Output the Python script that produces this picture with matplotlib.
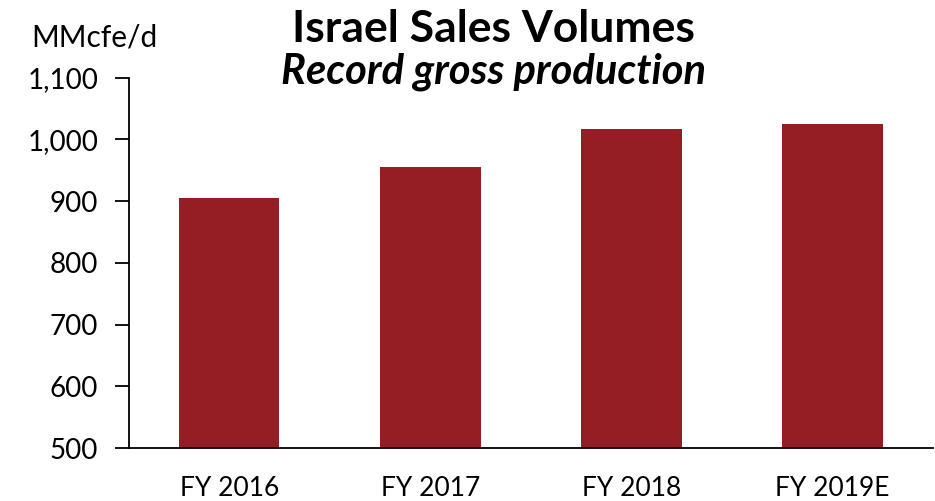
import matplotlib.pyplot as plt
from matplotlib.ticker import FuncFormatter

years = ['FY 2016', 'FY 2017', 'FY 2018', 'FY 2019E']
volumes = [905, 955, 1017, 1024]
y_ticks = [500, 600, 700, 800, 900, 1000, 1100]

plt.rcParams['font.family'] = ['Lato', 'DejaVu Sans']

fig = plt.figure(figsize=(9.35, 5.01), dpi=100)
ax = fig.add_axes([0.1376, 0.1052, 0.8604, 0.7401])

ax.bar(range(len(years)), volumes, width=0.5, color='#941e23', zorder=2)

ax.set_xlim(-0.5, len(years) - 0.5)
ax.set_ylim(500, 1100)
ax.set_yticks(y_ticks)
ax.yaxis.set_major_formatter(FuncFormatter(lambda v, p: '{:,.0f}'.format(v)))
ax.set_xticks(range(len(years)))
ax.set_xticklabels(years)

ax.spines['top'].set_visible(False)
ax.spines['right'].set_visible(False)
ax.spines['left'].set_linewidth(1.3)
ax.spines['bottom'].set_linewidth(1.3)
ax.tick_params(axis='y', direction='out', length=10, width=1.3, labelsize=20, pad=12)
ax.tick_params(axis='x', length=0, labelsize=19, pad=20)

# titles and unit label
fig.text(0.528, 0.916, 'Israel Sales Volumes', ha='center', va='baseline',
         fontsize=32, fontweight='bold')
fig.text(0.528, 0.834, 'Record gross production', ha='center', va='baseline',
         fontsize=30, fontweight='bold', fontstyle='italic')
fig.text(0.033, 0.908, 'MMcfe/d', ha='left', va='baseline', fontsize=21.5)

fig.savefig('out.png', dpi=100)
